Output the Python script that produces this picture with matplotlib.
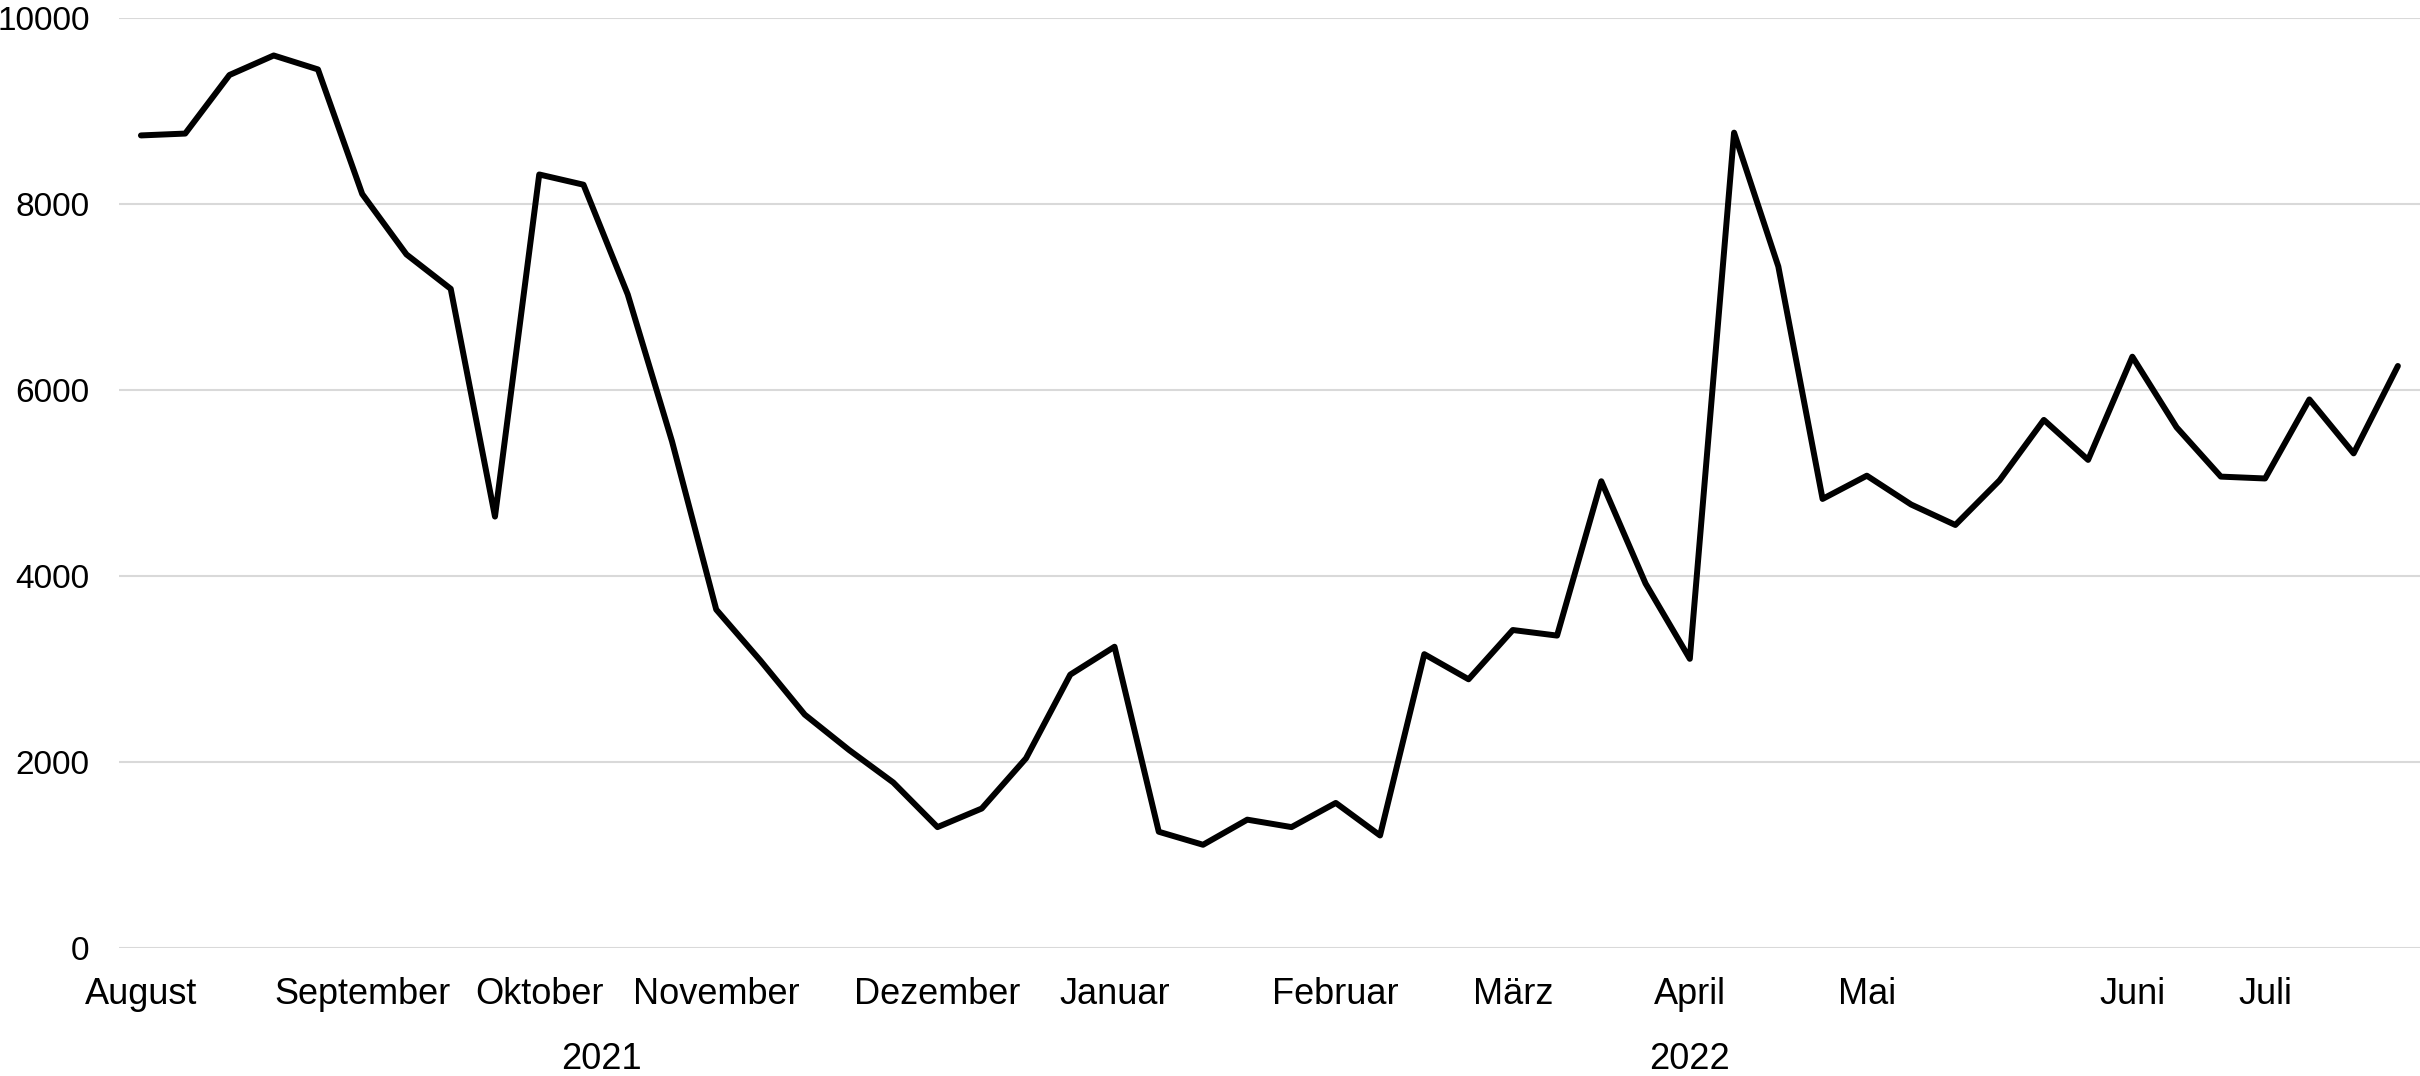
import matplotlib
matplotlib.use("Agg")
import matplotlib.pyplot as plt
import matplotlib.transforms as mtransforms

# weekly values, Aug 2021 - Jul 2022
values = [8740, 8760, 9390, 9600, 9450, 8110, 7460, 7090, 4640, 8320,
          8210, 7030, 5450, 3640, 3090, 2510, 2130, 1780, 1300, 1500,
          2040, 2940, 3240, 1250, 1110, 1380, 1300, 1560, 1210, 3160,
          2890, 3420, 3360, 5020, 3920, 3110, 8770, 7330, 4830, 5080,
          4770, 4550, 5030, 5680, 5250, 6360, 5600, 5070, 5050, 5900,
          5320, 6260]
month_labels = ["August", "September", "Oktober", "November", "Dezember", "Januar",
                "Februar", "März", "April", "Mai", "Juni", "Juli"]
month_index = [0, 5, 9, 13, 18, 22, 27, 31, 35, 39, 45, 48]
year_labels = ["2021", "2022"]
year_pos = [10.4, 35]
y_ticks = [0, 2000, 4000, 6000, 8000, 10000]

plt.rcParams['font.family'] = ['Liberation Sans', 'DejaVu Sans']

fig = plt.figure(figsize=(24.2, 10.76), dpi=100)
ax = fig.add_axes([0.0491, 0.119, 0.9509, 0.864])

x = list(range(len(values)))
ax.plot(x, values, color="black", lw=4.3, solid_joinstyle="round",
        solid_capstyle="round", zorder=3)

ax.set_xlim(-0.5, len(values) - 0.5)
ax.set_ylim(0, 10000)
ax.set_yticks(y_ticks)
ax.set_yticklabels([str(v) for v in y_ticks], fontsize=24)
ax.set_xticks(month_index)
ax.set_xticklabels(month_labels, fontsize=26)
ax.tick_params(axis="both", length=0)
ax.tick_params(axis="y", pad=21)
ax.tick_params(axis="x", pad=21)

ax.grid(axis="y", color="#d9d9d9", lw=1.5)
ax.set_axisbelow(True)
for s in ax.spines.values():
    s.set_visible(False)

trans = mtransforms.blended_transform_factory(ax.transData, ax.transAxes)
for lab, pos in zip(year_labels, year_pos):
    ax.text(pos, -0.130, lab, transform=trans, ha="center", va="baseline", fontsize=26)

fig.savefig("out.png", dpi=100)
